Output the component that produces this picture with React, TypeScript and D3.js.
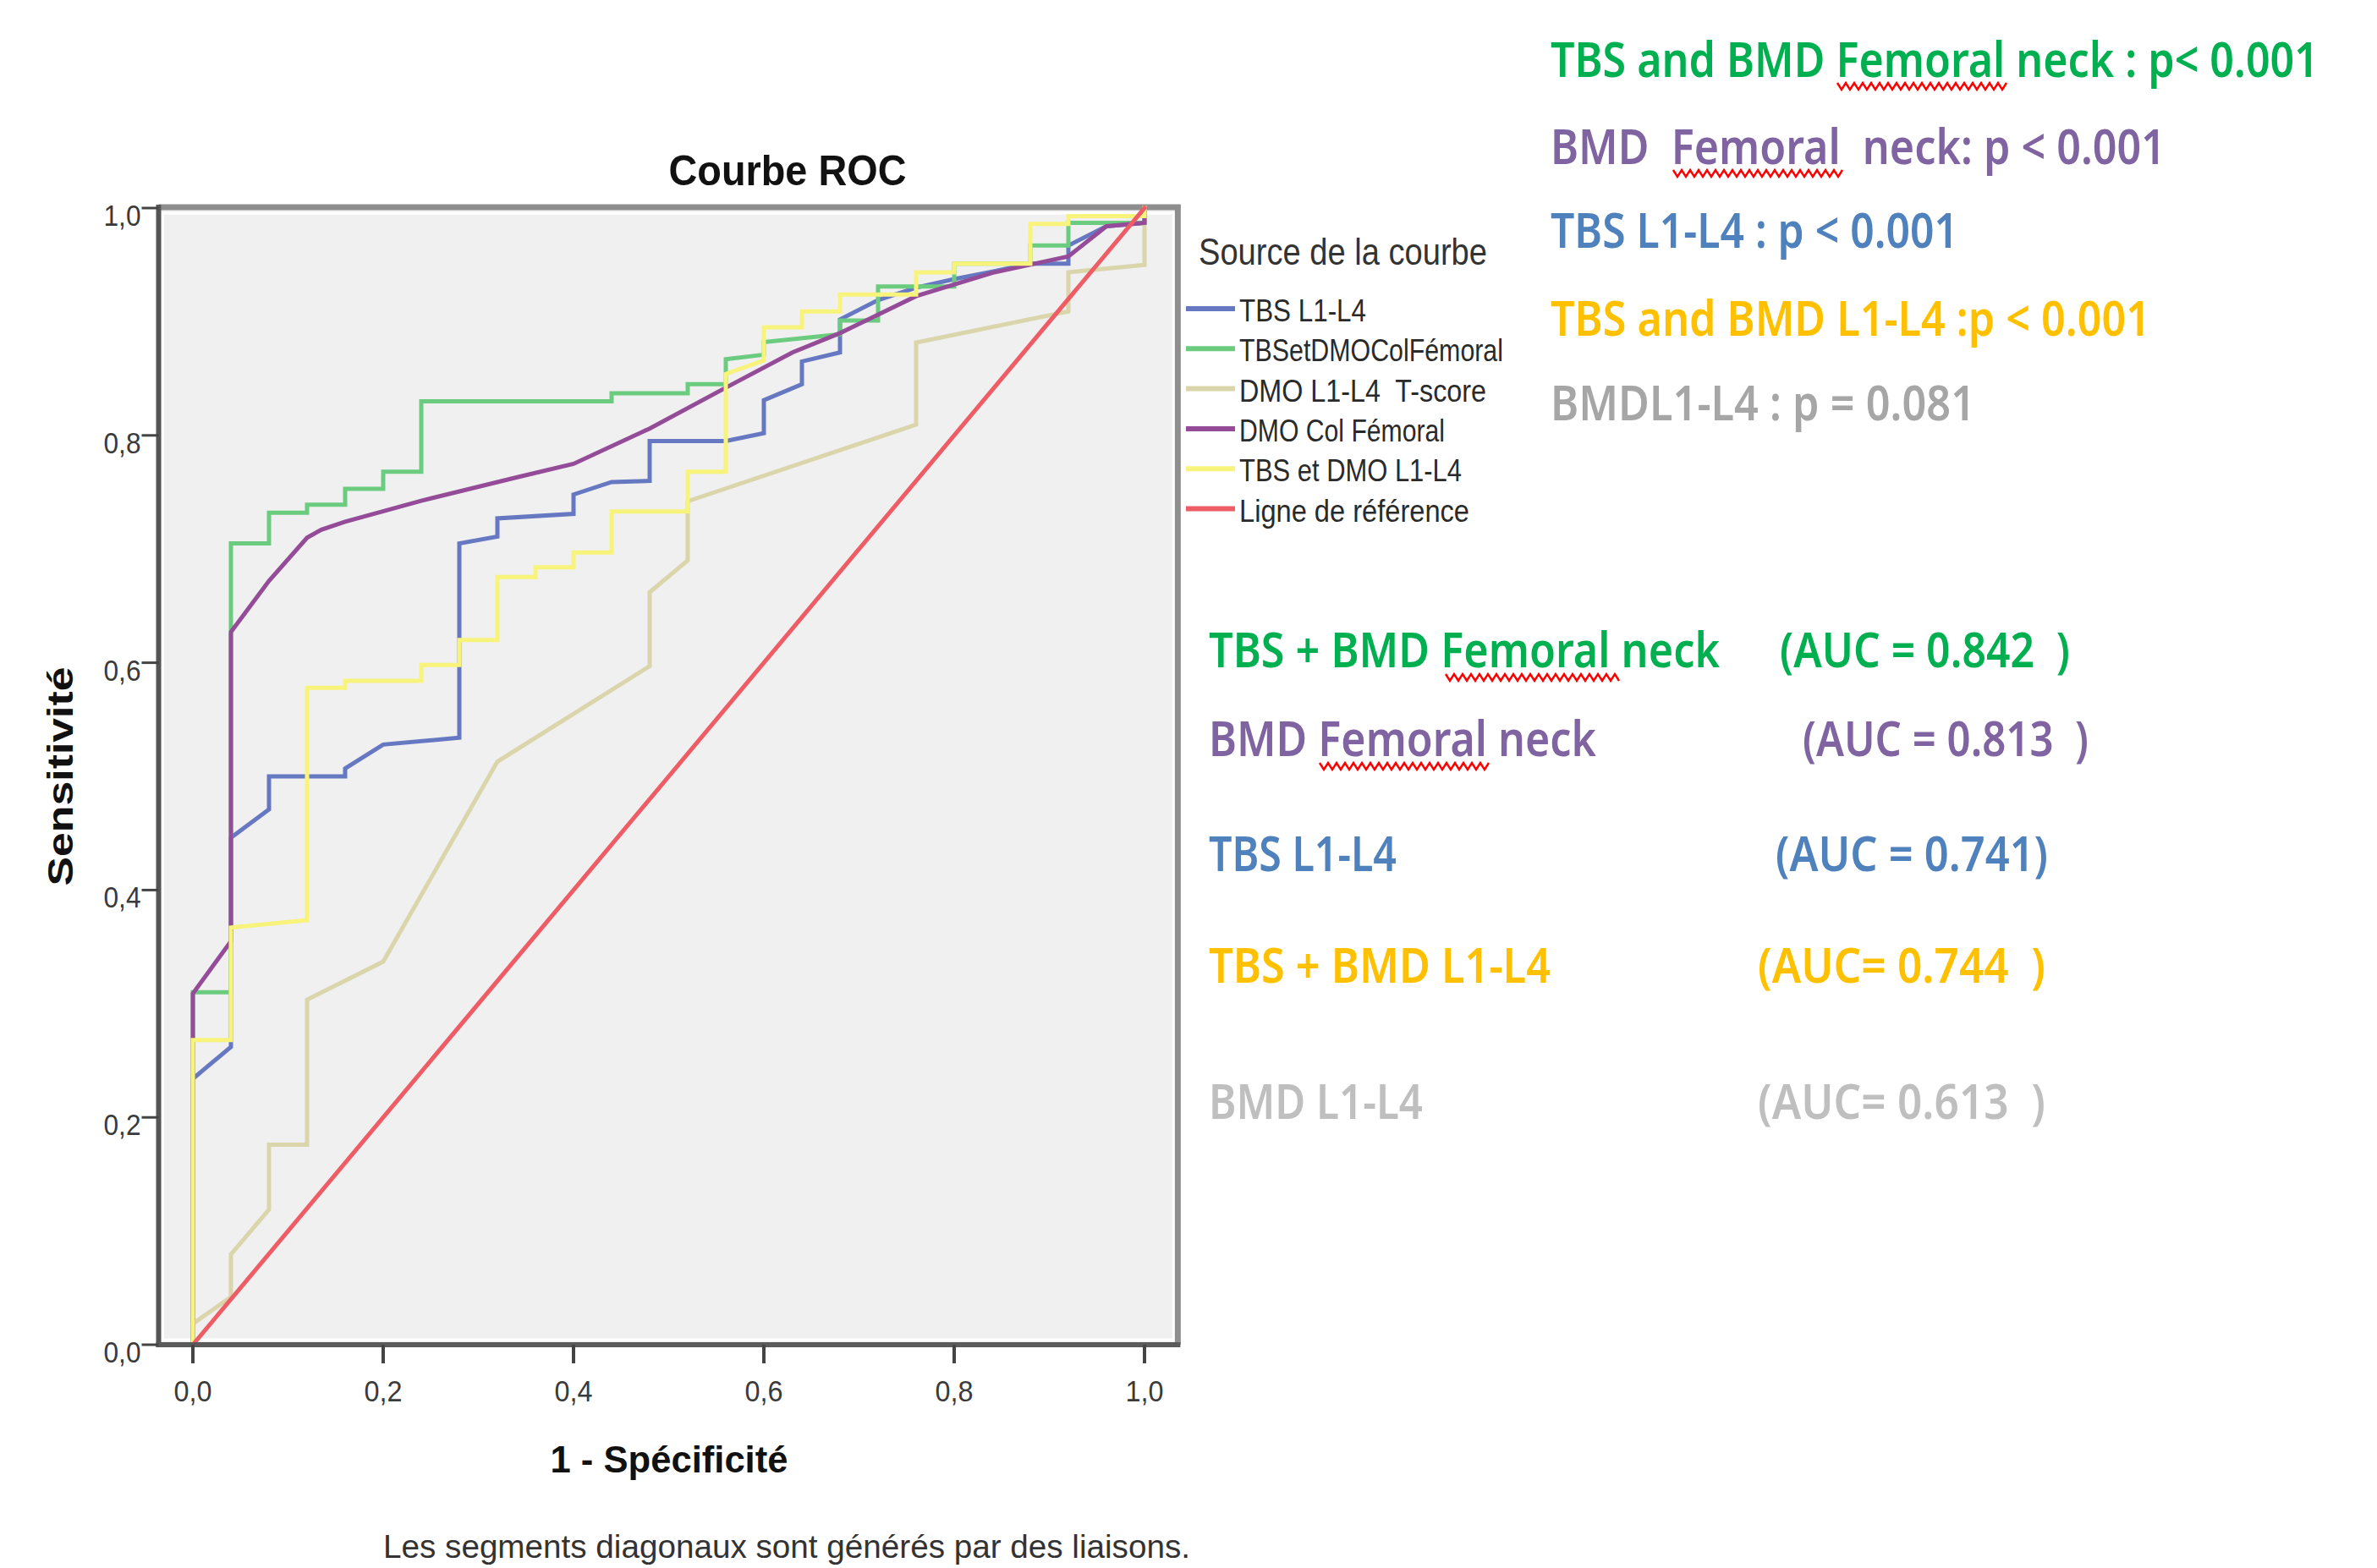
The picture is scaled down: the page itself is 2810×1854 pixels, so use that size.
import React from 'react';
import * as d3 from 'd3';

type Pt = [number, number];

// ---------- data ----------
const xTicks = [0, 0.2, 0.4, 0.6, 0.8, 1.0];
const yTicks = [0, 0.2, 0.4, 0.6, 0.8, 1.0];

const tbsL1L4: Pt[] = [
  [0, 0], [0, 0.234], [0.04, 0.262], [0.04, 0.446], [0.08, 0.471], [0.08, 0.5], [0.16, 0.5],
  [0.16, 0.507], [0.2, 0.528], [0.28, 0.534], [0.28, 0.705], [0.32, 0.711], [0.32, 0.727],
  [0.4, 0.731], [0.4, 0.748], [0.44, 0.759], [0.48, 0.76], [0.48, 0.795], [0.56, 0.795],
  [0.6, 0.802], [0.6, 0.831], [0.64, 0.845], [0.64, 0.865], [0.68, 0.873], [0.68, 0.902],
  [0.72, 0.919], [0.76, 0.93], [0.8, 0.9375], [0.84, 0.944], [0.88, 0.951], [0.92, 0.951],
  [0.92, 0.967], [0.96, 0.984], [1, 0.987], [1, 1],
];

const tbsDmoCol: Pt[] = [
  [0, 0], [0, 0.31], [0.04, 0.31], [0.04, 0.705], [0.08, 0.705], [0.08, 0.732], [0.12, 0.732],
  [0.12, 0.739], [0.16, 0.739], [0.16, 0.753], [0.2, 0.753], [0.2, 0.768], [0.24, 0.768],
  [0.24, 0.83], [0.44, 0.83], [0.44, 0.837], [0.52, 0.837], [0.52, 0.845], [0.56, 0.845],
  [0.56, 0.867], [0.6, 0.871], [0.6, 0.882], [0.68, 0.889], [0.68, 0.901], [0.72, 0.901],
  [0.72, 0.931], [0.8, 0.931], [0.8, 0.951], [0.88, 0.951], [0.88, 0.967], [0.92, 0.967],
  [0.92, 0.987], [1, 0.987], [1, 1],
];

const dmoL1L4: Pt[] = [
  [0, 0], [0, 0.0185], [0.04, 0.042], [0.04, 0.0795], [0.08, 0.119], [0.08, 0.176], [0.12, 0.176],
  [0.12, 0.3036], [0.2, 0.337], [0.32, 0.513], [0.48, 0.597], [0.48, 0.662], [0.52, 0.69],
  [0.52, 0.742], [0.76, 0.8095], [0.76, 0.8817], [0.92, 0.909], [0.92, 0.9435], [1, 0.95], [1, 1],
];

const dmoCol: Pt[] = [
  [0, 0], [0, 0.309], [0.04, 0.355], [0.04, 0.627], [0.08, 0.672], [0.12, 0.71], [0.135, 0.717],
  [0.16, 0.724], [0.24, 0.7425], [0.34, 0.763], [0.4, 0.775], [0.48, 0.806], [0.56, 0.842],
  [0.63, 0.873], [0.68, 0.89], [0.76, 0.9225], [0.84, 0.943], [0.92, 0.9575], [0.96, 0.984],
  [1, 0.987], [1, 1],
];

const tbsDmoL1L4: Pt[] = [
  [0, 0], [0, 0.268], [0.04, 0.268], [0.04, 0.367], [0.12, 0.3735], [0.12, 0.578], [0.16, 0.578],
  [0.16, 0.584], [0.24, 0.584], [0.24, 0.598], [0.28, 0.598], [0.28, 0.62], [0.32, 0.62],
  [0.32, 0.6755], [0.36, 0.6755], [0.36, 0.684], [0.4, 0.684], [0.4, 0.697], [0.44, 0.697],
  [0.44, 0.733], [0.52, 0.733], [0.52, 0.768], [0.56, 0.768], [0.56, 0.854], [0.6, 0.866],
  [0.6, 0.895], [0.64, 0.895], [0.64, 0.909], [0.68, 0.909], [0.68, 0.924], [0.76, 0.924],
  [0.76, 0.9435], [0.8, 0.9435], [0.8, 0.951], [0.88, 0.951], [0.88, 0.986], [0.92, 0.986],
  [0.92, 0.993], [1, 0.993], [1, 1],
];

const referenceLine: Pt[] = [[0, 0], [1, 1]];

const seriesNames = [
  'TBS L1-L4',
  'TBSetDMOColFémoral',
  'DMO L1-L4  T-score',
  'DMO Col Fémoral',
  'TBS et DMO L1-L4',
  'Ligne de référence',
];
const seriesData = [tbsL1L4, tbsDmoCol, dmoL1L4, dmoCol, tbsDmoL1L4, referenceLine];
const seriesColors = ['#6778C3', '#6BCB7E', '#DAD5AA', '#944B98', '#F8F37A', '#EE5C66'];
const drawOrder = [0, 1, 2, 3, 4, 5];

const pLabels = [
  'TBS and BMD Femoral neck : p< 0.001',
  'BMD  Femoral  neck: p < 0.001',
  'TBS L1-L4 : p < 0.001',
  'TBS and BMD L1-L4 :p < 0.001',
  'BMDL1-L4 : p = 0.081',
];
const pColors = ['#00B050', '#8064A2', '#4F81BD', '#FFC000', '#A6A6A6'];

const aucNames = ['TBS + BMD Femoral neck', 'BMD Femoral neck', 'TBS L1-L4', 'TBS + BMD L1-L4', 'BMD L1-L4'];
const aucValues = ['(AUC = 0.842  )', '(AUC = 0.813  )', '(AUC = 0.741)', '(AUC= 0.744  )', '(AUC= 0.613  )'];
const aucColors = ['#00B050', '#8064A2', '#4F81BD', '#FFC000', '#BFBFBF'];

// ---------- layout ----------
const W = 2810;
const H = 1854;
const chartFont = '"Liberation Sans Narrow", "Liberation Sans", Arial, sans-serif';
const noteFont = '"Noto Sans", "Open Sans", sans-serif';

const pLayout = { x: 1833, baselines: [91, 194, 293, 397, 497], widths: [908, 727, 482, 709, 502] };
const aucLayout = {
  x: 1429,
  baselines: [789, 894, 1030, 1162, 1323],
  nameWidths: [604, 458, 222, 404, 253],
  valueX: [2104, 2131, 2099, 2078, 2078],
  valueWidths: [343, 338, 322, 340, 340],
};
const squiggles = [
  [2172, 2375, 98],
  [1978, 2181, 201],
  [1709, 1915, 797],
  [1560, 1764, 902],
];
const legendTextWidths = [150, 312, 292, 243, 263, 272];

function squigglePath(x1: number, x2: number, yTop: number) {
  const period = 10;
  const amp = 8;
  const pts: string[] = [];
  let i = 0;
  for (let xx = x1; xx <= x2; xx += period / 2, i++) {
    pts.push(`${xx.toFixed(1)},${(i % 2 === 0 ? yTop : yTop + amp).toFixed(1)}`);
  }
  return 'M' + pts.join('L');
}

export default function App() {
  const x = d3.scaleLinear().domain([0, 1]).range([228, 1353]);
  const y = d3.scaleLinear().domain([0, 1]).range([1590, 246]);
  const line = d3.line<Pt>().x((d) => x(d[0])).y((d) => y(d[1]));
  const fmt = (v: number) => v.toFixed(1).replace('.', ',');

  const left = x(-0.036);
  const right = x(1.035);
  const top = y(1);
  const bottom = y(0);

  const legendX = 1402;
  const legendY0 = 365;
  const legendStep = 47.3;

  return (
    <svg
      width={W}
      height={H}
      viewBox={`0 0 ${W} ${H}`}
      style={{ position: 'absolute', left: 0, top: 0, background: '#ffffff' }}
    >
      <rect x={0} y={0} width={W} height={H} fill="#ffffff" />

      {/* title */}
      <text
        x={931}
        y={219}
        textAnchor="middle"
        fontFamily={chartFont}
        fontWeight="bold"
        fontSize={50}
        fill="#111"
        textLength={281}
        lengthAdjust="spacingAndGlyphs"
      >
        Courbe ROC
      </text>

      {/* plot background and frame */}
      <rect x={left} y={top} width={right - left} height={bottom - top} fill="#F0F0F0" />
      <rect
        x={left + 5}
        y={top + 6}
        width={right - left - 10}
        height={bottom - top - 12}
        fill="none"
        stroke="#ffffff"
        strokeWidth={3}
      />
      <line x1={left} x2={right + 3} y1={top - 1} y2={top - 1} stroke="#8E8E8E" strokeWidth={7} />
      <line x1={right} x2={right} y1={top - 4} y2={bottom} stroke="#8E8E8E" strokeWidth={7} />

      {/* curves */}
      {drawOrder.map((i) => (
        <path
          key={seriesNames[i]}
          d={line(seriesData[i]) || ''}
          fill="none"
          stroke={seriesColors[i]}
          strokeWidth={5}
          strokeLinejoin="miter"
          strokeLinecap="square"
        />
      ))}

      {/* axes */}
      <line x1={left} x2={left} y1={top - 4} y2={bottom + 3} stroke="#555555" strokeWidth={6} />
      <line x1={left - 3} x2={right + 3} y1={bottom} y2={bottom} stroke="#5A5A5A" strokeWidth={6} />

      {/* y ticks */}
      {yTicks.map((t) => (
        <g key={'y' + t}>
          <line x1={left - 20} x2={left} y1={y(t)} y2={y(t)} stroke="#444" strokeWidth={3} />
          <text
            x={left - 21}
            y={y(t) + 21}
            textAnchor="end"
            fontFamily={chartFont}
            fontSize={35}
            fill="#3a3a3a"
            textLength={44}
            lengthAdjust="spacingAndGlyphs"
          >
            {fmt(t)}
          </text>
        </g>
      ))}

      {/* x ticks */}
      {xTicks.map((t) => (
        <g key={'x' + t}>
          <line x1={x(t)} x2={x(t)} y1={bottom} y2={bottom + 22} stroke="#444" strokeWidth={4} />
          <text
            x={x(t)}
            y={bottom + 67}
            textAnchor="middle"
            fontFamily={chartFont}
            fontSize={35}
            fill="#3a3a3a"
            textLength={45}
            lengthAdjust="spacingAndGlyphs"
          >
            {fmt(t)}
          </text>
        </g>
      ))}

      {/* axis titles */}
      <text
        x={791}
        y={1741}
        textAnchor="middle"
        fontFamily={chartFont}
        fontWeight="bold"
        fontSize={44}
        fill="#111"
        textLength={281}
        lengthAdjust="spacingAndGlyphs"
      >
        1 - Spécificité
      </text>
      <text
        transform="translate(86,918) rotate(-90)"
        textAnchor="middle"
        fontFamily={chartFont}
        fontWeight="bold"
        fontSize={42}
        fill="#111"
        textLength={259}
        lengthAdjust="spacingAndGlyphs"
      >
        Sensitivité
      </text>
      <text
        x={930}
        y={1842}
        textAnchor="middle"
        fontFamily={chartFont}
        fontSize={38}
        fill="#333"
        textLength={954}
        lengthAdjust="spacingAndGlyphs"
      >
        Les segments diagonaux sont générés par des liaisons.
      </text>

      {/* legend */}
      <text
        x={1417}
        y={313}
        fontFamily={chartFont}
        fontSize={44}
        fill="#333"
        textLength={341}
        lengthAdjust="spacingAndGlyphs"
      >
        Source de la courbe
      </text>
      {seriesNames.map((name, i) => (
        <g key={'leg' + i}>
          <line
            x1={legendX}
            x2={legendX + 58}
            y1={legendY0 + i * legendStep}
            y2={legendY0 + i * legendStep}
            stroke={seriesColors[i]}
            strokeWidth={6}
          />
          <text
            x={1465}
            y={legendY0 + i * legendStep + 15}
            fontFamily={chartFont}
            fontSize={36}
            fill="#2a2a2a"
            textLength={legendTextWidths[i]}
            lengthAdjust="spacingAndGlyphs"
            style={{ whiteSpace: 'pre' }}
          >
            {name}
          </text>
        </g>
      ))}

      {/* p-value annotations */}
      {pLabels.map((s, i) => (
        <text
          key={'p' + i}
          x={pLayout.x}
          y={pLayout.baselines[i]}
          fontFamily={noteFont}
          fontWeight={600}
          fontSize={58}
          fill={pColors[i]}
          textLength={pLayout.widths[i]}
          lengthAdjust="spacingAndGlyphs"
          style={{ whiteSpace: 'pre' }}
        >
          {s}
        </text>
      ))}

      {/* AUC annotations */}
      {aucNames.map((s, i) => (
        <g key={'auc' + i}>
          <text
            x={aucLayout.x}
            y={aucLayout.baselines[i]}
            fontFamily={noteFont}
            fontWeight={600}
            fontSize={58}
            fill={aucColors[i]}
            textLength={aucLayout.nameWidths[i]}
            lengthAdjust="spacingAndGlyphs"
            style={{ whiteSpace: 'pre' }}
          >
            {s}
          </text>
          <text
            x={aucLayout.valueX[i]}
            y={aucLayout.baselines[i]}
            fontFamily={noteFont}
            fontWeight={600}
            fontSize={58}
            fill={aucColors[i]}
            textLength={aucLayout.valueWidths[i]}
            lengthAdjust="spacingAndGlyphs"
            style={{ whiteSpace: 'pre' }}
          >
            {aucValues[i]}
          </text>
        </g>
      ))}

      {/* spell-check squiggles */}
      {squiggles.map((s, i) => (
        <path key={'sq' + i} d={squigglePath(s[0], s[1], s[2])} fill="none" stroke="#FF0000" strokeWidth={2.5} />
      ))}
    </svg>
  );
}
